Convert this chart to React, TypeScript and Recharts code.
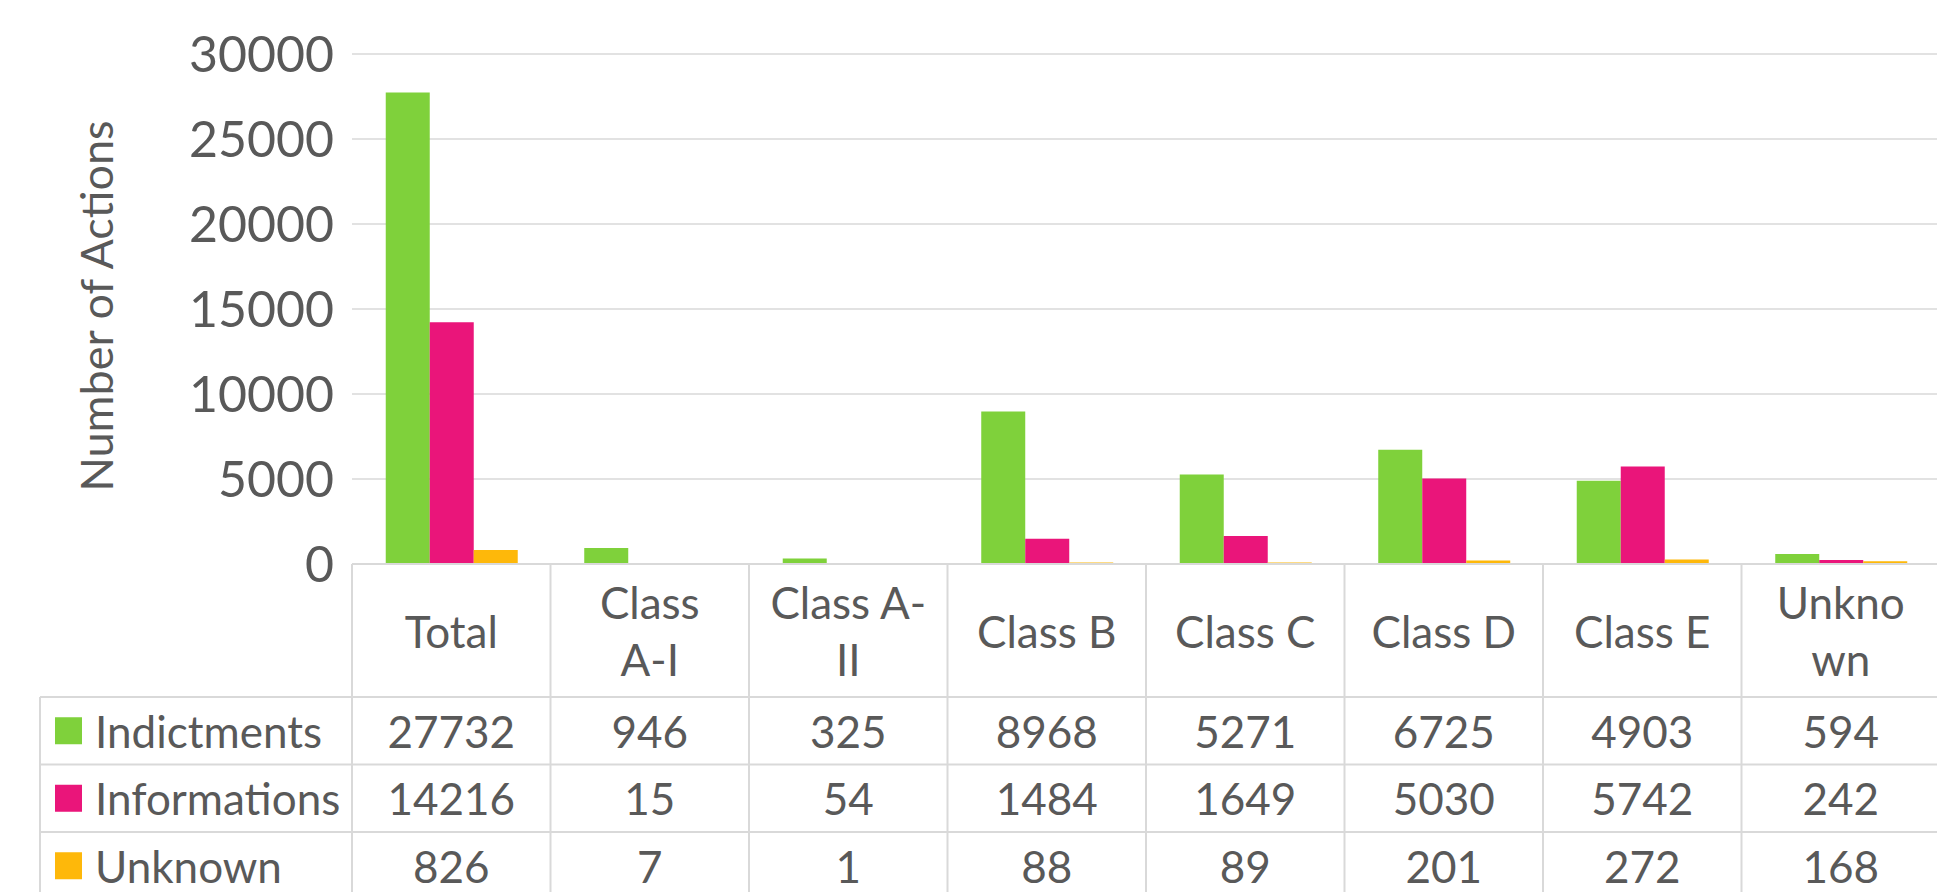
import { Bar, BarChart, CartesianGrid, XAxis, YAxis } from 'recharts'

const categories = ['Total', 'Class A-I', 'Class A-II', 'Class B', 'Class C', 'Class D', 'Class E', 'Unknown']
// how Excel wrapped the header cells
const headerLines = [
  ['Total'],
  ['Class', 'A-I'],
  ['Class A-', 'II'],
  ['Class B'],
  ['Class C'],
  ['Class D'],
  ['Class E'],
  ['Unkno', 'wn'],
]
const indictments = [27732, 946, 325, 8968, 5271, 6725, 4903, 594]
const informations = [14216, 15, 54, 1484, 1649, 5030, 5742, 242]
const unknown = [826, 7, 1, 88, 89, 201, 272, 168]
const seriesNames = ['Indictments', 'Informations', 'Unknown']
const seriesKeys = ['indictments', 'informations', 'unknown'] as const
const seriesColors = ['#7fd13b', '#ea157a', '#feb80a']
const yTicks = [0, 5000, 10000, 15000, 20000, 25000, 30000]

const data = categories.map((name, i) => ({
  name,
  indictments: indictments[i],
  informations: informations[i],
  unknown: unknown[i],
}))
const seriesValues = [indictments, informations, unknown]

const CHART_W = 1940
const CHART_H = 892
const AXIS_W = 352
const HEADER_H = 133
const ROW_H = 67.5
const LINE_GAP = 57
const LEGEND_LEFT = 40
const TEXT = '#595959'
const BORDER = '#d9d9d9'
const FONT = 'Lato, "Open Sans", sans-serif'
const TABLE_FONT = 44

function TableColumn(props: any) {
  const { x, y, payload } = props
  const i = typeof payload?.index === 'number' ? payload.index : categories.indexOf(payload.value)
  const half = payload?.offset ?? (CHART_W - AXIS_W) / categories.length / 2
  const left = x - half
  const right = x + half
  const bottom = y + HEADER_H + ROW_H * 3 + 20
  const lines = headerLines[i] ?? [payload.value]
  const headerMid = y + HEADER_H / 2
  const rowLeft = i === 0 ? LEGEND_LEFT : left
  const firstLine = headerMid - ((lines.length - 1) / 2) * LINE_GAP

  return (
    <g>
      {i === 0 && <line x1={left} x2={left} y1={y} y2={bottom} stroke={BORDER} strokeWidth={2} />}
      <line x1={right} x2={right} y1={y} y2={bottom} stroke={BORDER} strokeWidth={2} />
      {[0, 1, 2].map((r) => (
        <line
          key={r}
          x1={rowLeft}
          x2={right}
          y1={y + HEADER_H + r * ROW_H}
          y2={y + HEADER_H + r * ROW_H}
          stroke={BORDER}
          strokeWidth={2}
        />
      ))}
      <text
        x={x}
        y={firstLine}
        textAnchor="middle"
        dominantBaseline="central"
        fill={TEXT}
        fontSize={TABLE_FONT}
        fontFamily={FONT}
      >
        {lines.map((line, k) => (
          <tspan key={k} x={x} dy={k === 0 ? 0 : LINE_GAP}>
            {line}
          </tspan>
        ))}
      </text>
      {seriesValues.map((values, r) => (
        <text
          key={r}
          x={x}
          y={y + HEADER_H + r * ROW_H + ROW_H / 2}
          textAnchor="middle"
          dominantBaseline="central"
          fill={TEXT}
          fontSize={TABLE_FONT}
          fontFamily={FONT}
        >
          {values[i]}
        </text>
      ))}
      {i === 0 && (
        <g>
          <line x1={LEGEND_LEFT} x2={LEGEND_LEFT} y1={y + HEADER_H} y2={bottom} stroke={BORDER} strokeWidth={2} />
          {seriesNames.map((name, r) => {
            const cy = y + HEADER_H + r * ROW_H + ROW_H / 2
            return (
              <g key={name}>
                <rect x={55} y={cy - 13.5} width={27} height={27} fill={seriesColors[r]} />
                <text
                  x={95}
                  y={cy}
                  dominantBaseline="central"
                  fill={TEXT}
                  fontSize={TABLE_FONT}
                  fontFamily={FONT}
                >
                  {name}
                </text>
              </g>
            )
          })}
        </g>
      )}
    </g>
  )
}

function AxisTitle(props: any) {
  const vb = props.viewBox ?? { y: 54, height: 510 }
  const cx = 96
  const cy = vb.y + vb.height / 2 - 3
  return (
    <text
      x={cx}
      y={cy}
      transform={`rotate(-90 ${cx} ${cy})`}
      textAnchor="middle"
      dominantBaseline="central"
      fill={TEXT}
      fontSize={45}
      fontFamily={FONT}
    >
      Number of Actions
    </text>
  )
}

export default function App() {
  return (
    <div
      style={{
        position: 'absolute',
        left: 0,
        top: 0,
        width: 1937,
        height: CHART_H,
        overflow: 'hidden',
        background: '#fff',
      }}
    >
      <BarChart
        width={CHART_W}
        height={CHART_H}
        data={data}
        margin={{ top: 54, right: 0, left: 0, bottom: 0 }}
        barCategoryGap="17%"
        barGap={0}
      >
        <CartesianGrid stroke={BORDER} strokeWidth={1.5} vertical={false} />
        <XAxis
          dataKey="name"
          height={CHART_H - 564}
          interval={0}
          tickLine={false}
          tickSize={0}
          tickMargin={0}
          axisLine={{ stroke: BORDER, strokeWidth: 2 }}
          tick={<TableColumn />}
        />
        <YAxis
          width={AXIS_W}
          domain={[0, 30000]}
          ticks={yTicks}
          interval={0}
          axisLine={false}
          tickLine={false}
          tickSize={0}
          tickMargin={18}
          tick={{ fill: TEXT, fontSize: 50, fontFamily: FONT }}
          label={<AxisTitle />}
        />
        {seriesKeys.map((key, s) => (
          <Bar key={key} dataKey={key} name={seriesNames[s]} fill={seriesColors[s]} isAnimationActive={false} />
        ))}
      </BarChart>
    </div>
  )
}
